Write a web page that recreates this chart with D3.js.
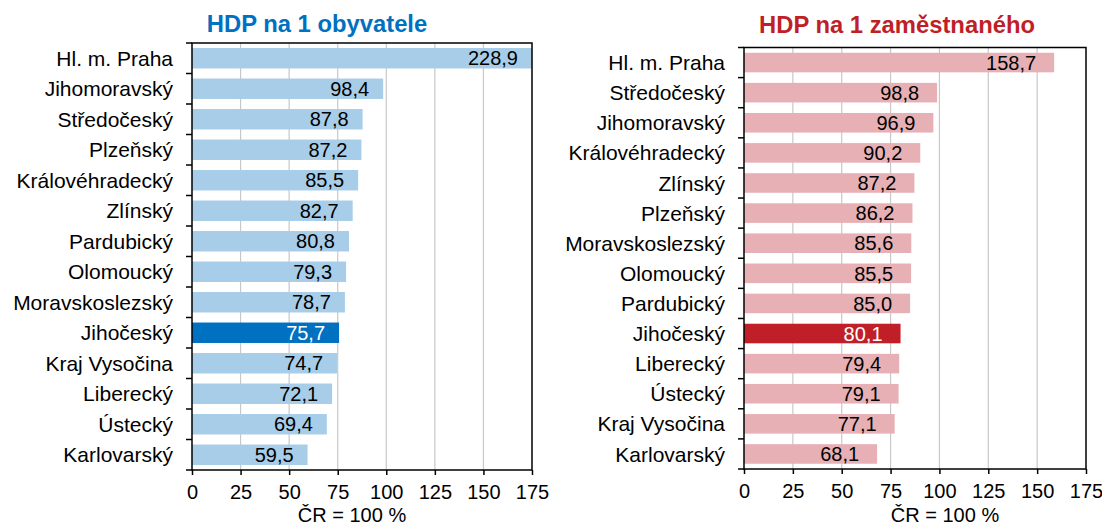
<!DOCTYPE html>
<html><head><meta charset="utf-8">
<script src="https://cdn.jsdelivr.net/npm/d3@7"></script>
<style>body{margin:0;background:#fff}svg{display:block;font-family:"Liberation Sans",Arial,sans-serif}</style>
</head><body><svg id="c" width="1102" height="526"></svg>
<script>
const leftTitle = "HDP na 1 obyvatele";
const leftCategories = ["Hl. m. Praha","Jihomoravský","Středočeský","Plzeňský","Královéhradecký","Zlínský","Pardubický","Olomoucký","Moravskoslezský","Jihočeský","Kraj Vysočina","Liberecký","Ústecký","Karlovarský"];
const leftValues = [228.9,98.4,87.8,87.2,85.5,82.7,80.8,79.3,78.7,75.7,74.7,72.1,69.4,59.5];

const rightTitle = "HDP na 1 zaměstnaného";
const rightCategories = ["Hl. m. Praha","Středočeský","Jihomoravský","Královéhradecký","Zlínský","Plzeňský","Moravskoslezský","Olomoucký","Pardubický","Jihočeský","Liberecký","Ústecký","Kraj Vysočina","Karlovarský"];
const rightValues = [158.7,98.8,96.9,90.2,87.2,86.2,85.6,85.5,85.0,80.1,79.4,79.1,77.1,68.1];

const highlight = "Jihočeský";
const xTicks = [0,25,50,75,100,125,150,175];
const axisTitle = "ČR = 100 %";

const svg = d3.select("#c");
const FF = "'Liberation Sans',Arial,sans-serif";

function panel(o){
  const g = svg.append("g");
  const x = d3.scaleLinear().domain([0,175]).range([o.x0,o.x1]);
  const y = d3.scaleBand().domain(o.cats).range([o.y0,o.y1]).paddingInner(o.pad).paddingOuter(o.pad/2);
  g.selectAll("line.grid").data(xTicks.slice(1,-1)).join("line")
    .attr("x1",d=>x(d)).attr("x2",d=>x(d)).attr("y1",o.y0).attr("y2",o.y1)
    .attr("stroke","#c8c8c8").attr("stroke-width",1.2);
  const clipId = "clip"+o.id;
  svg.append("clipPath").attr("id",clipId).append("rect")
    .attr("x",o.x0).attr("y",o.y0).attr("width",o.x1-o.x0).attr("height",o.y1-o.y0);
  const data = o.cats.map((c,i)=>({c,v:o.vals[i]}));
  g.append("g").attr("clip-path",`url(#${clipId})`).selectAll("rect").data(data).join("rect")
    .attr("x",x(0)).attr("y",d=>y(d.c)).attr("width",d=>x(d.v)-x(0)).attr("height",y.bandwidth())
    .attr("fill",d=>d.c===highlight?o.dark:o.light);
  g.selectAll("text.val").data(data).join("text")
    .attr("x",d=>Math.min(x(d.v),o.x1)-o.lblOff)
    .attr("y",d=>y(d.c)+y.bandwidth()/2).attr("dy","0.36em")
    .attr("text-anchor","end").attr("font-size",20)
    .attr("fill",d=>d.c===highlight?"#fff":"#000")
    .text(d=>d3.format(".1f")(d.v).replace(".",","));
  g.append("rect").attr("x",o.x0).attr("y",o.y0).attr("width",o.x1-o.x0).attr("height",o.y1-o.y0)
    .attr("fill","none").attr("stroke","#000").attr("stroke-width",1.5);
  const bounds = d3.range(o.cats.length+1).map(i=>o.y0+(o.y1-o.y0)*i/o.cats.length);
  g.selectAll("line.yt").data(bounds).join("line")
    .attr("x1",o.x0-6).attr("x2",o.x0).attr("y1",d=>d).attr("y2",d=>d)
    .attr("stroke","#000").attr("stroke-width",1.5);
  g.selectAll("text.cat").data(o.cats).join("text")
    .attr("x",o.x0-19).attr("y",d=>y(d)+y.bandwidth()/2).attr("dy","0.36em")
    .attr("text-anchor","end").attr("font-size",21).attr("fill","#000").text(d=>d);
  const ax = g.append("g").attr("transform",`translate(0,${o.y1})`)
    .call(d3.axisBottom(x).tickValues(xTicks).tickSize(5).tickPadding(10).tickFormat(d3.format("d")));
  ax.select(".domain").remove();
  ax.selectAll("line").attr("stroke","#000").attr("stroke-width",1.5);
  ax.selectAll("text").attr("font-size",20).attr("font-family",FF).attr("fill","#000");
  g.append("text").attr("x",o.axTitleX).attr("y",522).attr("text-anchor","middle")
    .attr("font-size",20).attr("fill","#000").text(axisTitle);
  g.append("text").attr("x",o.titleX).attr("y",o.titleY).attr("text-anchor","middle")
    .attr("font-size",23.8).attr("font-weight","bold").attr("fill",o.titleColor).text(o.title);
}

panel({id:"L",cats:leftCategories,vals:leftValues,x0:192,x1:532,y0:43,y1:470,pad:0.33,
  light:"#a7cde9",dark:"#0070c0",lblOff:14,title:leftTitle,titleX:317,titleY:32,titleColor:"#0070c0",axTitleX:352});
panel({id:"R",cats:rightCategories,vals:rightValues,x0:744,x1:1086,y0:47.5,y1:469,pad:0.35,
  light:"#e6b0b5",dark:"#c01f28",lblOff:18,title:rightTitle,titleX:897,titleY:33,titleColor:"#c01f28",axTitleX:945});
</script></body></html>
